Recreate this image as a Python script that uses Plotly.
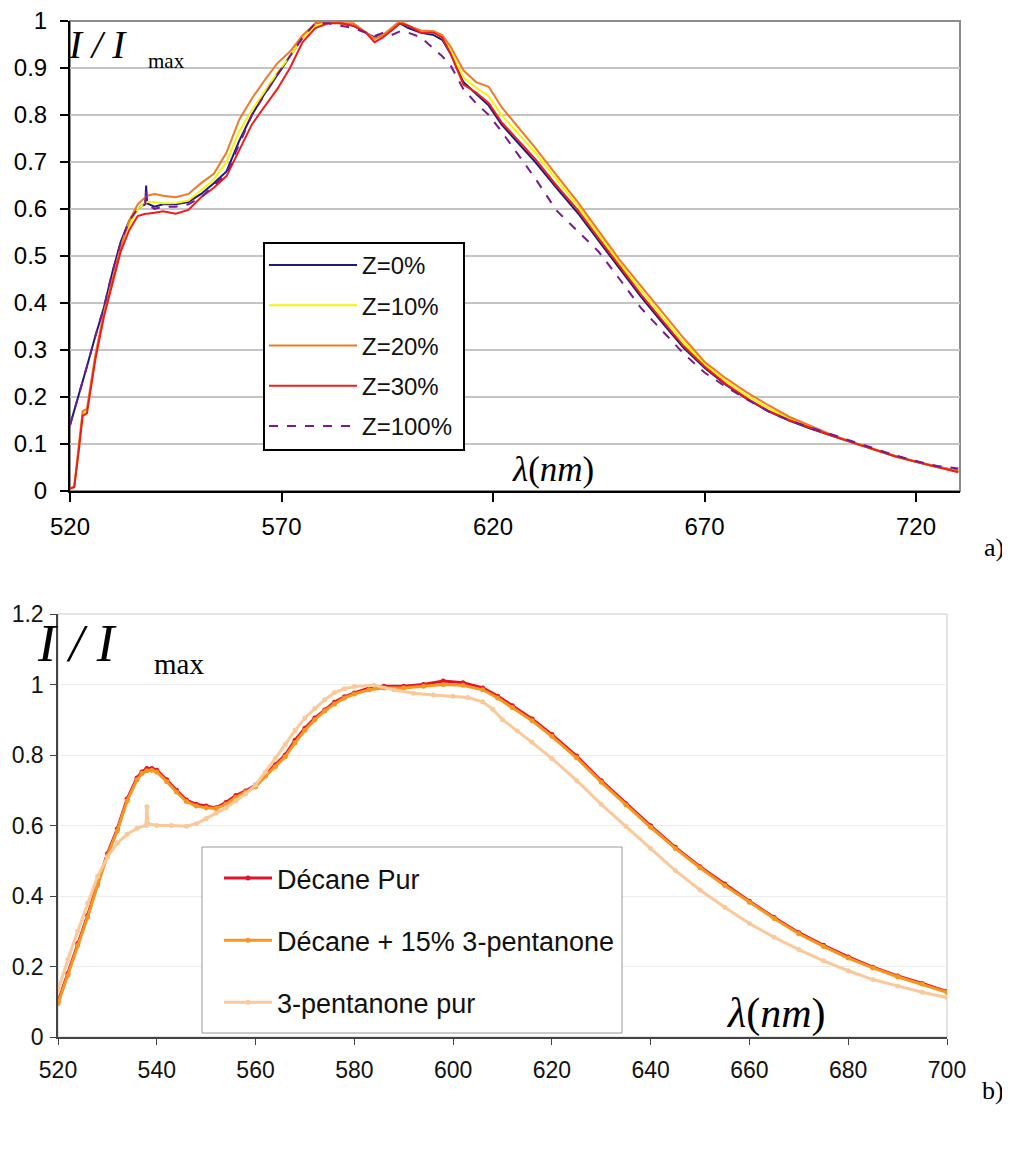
import plotly.graph_objects as go

# Page body has an 8px margin: the figure is sized to fit the window and all
# positions below are given in window pixels, converted by px()/py().
OFF = 8
W, H = 1010 - OFF, 1172 - OFF

# ---------------- Panel a) data ----------------
LAMBDA_A = [520, 521, 522, 523, 524, 526, 528, 530, 532, 534, 536, 537.8, 538, 538.2,
            540, 542, 545, 548, 551, 554, 557, 560, 563, 566, 569, 572, 575,
            578, 581, 584, 587, 590, 592, 594, 596, 598, 600, 603, 606, 608, 610,
            613, 616, 619, 622, 626, 630, 635, 640, 645, 650, 655, 660, 665, 670,
            675, 680, 685, 690, 695, 700, 705, 710, 715, 720, 725, 730]

Z0 = [0.14, 0.17, 0.20, 0.235, 0.265, 0.33, 0.39, 0.465, 0.53, 0.575, 0.60, 0.612, 0.65, 0.612,
      0.605, 0.61, 0.61, 0.615, 0.632, 0.655, 0.68, 0.745, 0.80, 0.845, 0.885, 0.925, 0.965,
      0.995, 0.998, 0.995, 0.99, 0.975, 0.965, 0.97, 0.98, 0.995, 0.985, 0.975, 0.97, 0.96, 0.93,
      0.87, 0.845, 0.82, 0.78, 0.74, 0.70, 0.645, 0.592, 0.532, 0.472, 0.413, 0.358, 0.305, 0.262,
      0.226, 0.196, 0.17, 0.15, 0.133, 0.118, 0.103, 0.088, 0.074, 0.062, 0.051, 0.043]

Z10 = [0.005, 0.01, 0.085, 0.165, 0.17, 0.285, 0.375, 0.445, 0.515, 0.565, 0.60, 0.612, 0.615, 0.615,
       0.615, 0.612, 0.613, 0.618, 0.64, 0.663, 0.70, 0.765, 0.81, 0.85, 0.89, 0.925, 0.965,
       0.99, 0.998, 0.995, 0.993, 0.975, 0.962, 0.97, 0.985, 0.998, 0.99, 0.978, 0.975, 0.965, 0.935,
       0.88, 0.858, 0.84, 0.80, 0.76, 0.72, 0.663, 0.607, 0.545, 0.484, 0.427, 0.372, 0.317, 0.27,
       0.234, 0.203, 0.177, 0.155, 0.136, 0.119, 0.103, 0.088, 0.074, 0.062, 0.051, 0.041]

Z20 = [0.005, 0.01, 0.09, 0.17, 0.175, 0.29, 0.38, 0.45, 0.52, 0.575, 0.61, 0.625, 0.628, 0.628,
       0.632, 0.628, 0.625, 0.632, 0.655, 0.675, 0.72, 0.79, 0.835, 0.874, 0.91, 0.935, 0.97,
       0.995, 1.0, 0.995, 0.995, 0.975, 0.962, 0.97, 0.985, 1.0, 0.99, 0.98, 0.978, 0.97, 0.945,
       0.895, 0.87, 0.86, 0.817, 0.773, 0.73, 0.672, 0.615, 0.553, 0.491, 0.436, 0.381, 0.326, 0.275,
       0.24, 0.21, 0.183, 0.158, 0.139, 0.12, 0.104, 0.089, 0.075, 0.063, 0.052, 0.042]

Z30 = [0.005, 0.008, 0.08, 0.16, 0.165, 0.28, 0.37, 0.44, 0.51, 0.555, 0.585, 0.59, 0.59, 0.59,
       0.592, 0.595, 0.59, 0.598, 0.625, 0.645, 0.67, 0.726, 0.78, 0.818, 0.855, 0.90, 0.955,
       0.985, 0.995, 0.995, 0.99, 0.975, 0.955, 0.965, 0.98, 0.995, 0.99, 0.975, 0.975, 0.965, 0.93,
       0.865, 0.848, 0.825, 0.785, 0.745, 0.706, 0.65, 0.598, 0.537, 0.477, 0.418, 0.363, 0.309, 0.265,
       0.228, 0.197, 0.171, 0.151, 0.134, 0.118, 0.103, 0.088, 0.074, 0.062, 0.051, 0.04]

Z100 = [0.14, 0.17, 0.20, 0.235, 0.265, 0.33, 0.39, 0.465, 0.53, 0.575, 0.60, 0.61, 0.64, 0.61,
        0.60, 0.605, 0.605, 0.61, 0.625, 0.65, 0.675, 0.738, 0.80, 0.843, 0.886, 0.925, 0.965,
        0.995, 0.995, 0.99, 0.985, 0.975, 0.968, 0.975, 0.97, 0.978, 0.975, 0.965, 0.94, 0.925, 0.905,
        0.855, 0.825, 0.80, 0.765, 0.715, 0.665, 0.597, 0.553, 0.509, 0.45, 0.389, 0.341, 0.293, 0.252,
        0.222, 0.195, 0.17, 0.15, 0.135, 0.12, 0.105, 0.09, 0.076, 0.064, 0.053, 0.048]

NAMES_A = ["Z=0%", "Z=10%", "Z=20%", "Z=30%", "Z=100%"]
VALUES_A = [Z0, Z10, Z20, Z30, Z100]
COLORS_A = ["#1c1c80", "#f5f500", "#f07828", "#ee1c1c", "#7a1a8c"]
DASHES_A = ["solid", "solid", "solid", "solid", "dash"]
XTICKS_A = [520, 570, 620, 670, 720]

# ---------------- Panel b) data ----------------
LAMBDA_B = [520, 522, 524, 526, 528, 530, 532, 534, 536, 537, 538, 539, 540, 542, 544, 546,
            548, 550, 552, 554, 556, 558, 560, 562, 564, 566, 568, 570, 572, 574, 576, 578,
            580, 583, 586, 590, 594, 598, 602, 606, 609, 612, 616, 620, 625, 630, 635, 640,
            645, 650, 655, 660, 665, 670, 675, 680, 685, 690, 695, 700]

DECANE_PUR = [0.10, 0.18, 0.265, 0.345, 0.435, 0.52, 0.59, 0.675, 0.735, 0.752, 0.762, 0.762,
              0.757, 0.73, 0.70, 0.672, 0.66, 0.655, 0.65, 0.665, 0.685, 0.698, 0.715, 0.745,
              0.772, 0.80, 0.842, 0.876, 0.905, 0.928, 0.95, 0.965, 0.976, 0.99, 0.995, 0.995,
              1.0, 1.01, 1.005, 0.99, 0.967, 0.94, 0.902, 0.858, 0.797, 0.727, 0.662, 0.599,
              0.538, 0.483, 0.434, 0.385, 0.339, 0.296, 0.26, 0.227, 0.198, 0.173, 0.152, 0.129]

DECANE_15 = [0.095, 0.175, 0.26, 0.34, 0.43, 0.515, 0.585, 0.67, 0.73, 0.748, 0.755, 0.757,
             0.752, 0.725, 0.695, 0.668, 0.655, 0.65, 0.648, 0.66, 0.68, 0.695, 0.71, 0.74,
             0.767, 0.795, 0.835, 0.87, 0.90, 0.925, 0.945, 0.962, 0.973, 0.985, 0.99, 0.99,
             0.995, 1.0, 0.998, 0.985, 0.962, 0.935, 0.897, 0.853, 0.792, 0.723, 0.658, 0.595,
             0.535, 0.48, 0.43, 0.382, 0.336, 0.293, 0.257, 0.224, 0.196, 0.171, 0.15, 0.127]

LAMBDA_P = [520, 522, 524, 526, 528, 530, 532, 534, 536, 537.8, 538, 538.2, 540, 543, 546,
            548, 550, 552, 554, 556, 558, 560, 562, 564, 566, 568, 570, 572, 574, 576, 578,
            580, 584, 588, 592, 596, 600, 603, 606, 608, 610, 613, 616, 620, 625, 630, 635,
            640, 645, 650, 655, 660, 665, 670, 675, 680, 685, 690, 695, 700]

PENTANONE = [0.133, 0.22, 0.30, 0.38, 0.455, 0.51, 0.55, 0.575, 0.592, 0.60, 0.653, 0.605,
             0.60, 0.60, 0.598, 0.605, 0.62, 0.635, 0.65, 0.67, 0.69, 0.715, 0.752, 0.79,
             0.83, 0.87, 0.905, 0.932, 0.957, 0.977, 0.988, 0.994, 0.998, 0.985, 0.975, 0.97,
             0.967, 0.963, 0.951, 0.93, 0.90, 0.868, 0.836, 0.79, 0.728, 0.66, 0.598, 0.535,
             0.472, 0.417, 0.368, 0.322, 0.283, 0.248, 0.216, 0.188, 0.163, 0.145, 0.127, 0.112]

NAMES_B = ["Décane Pur", "Décane + 15% 3-pentanone", "3-pentanone pur"]
COLORS_B = ["#e3122b", "#f7961e", "#fbc89a"]
XTICKS_B = [520, 540, 560, 580, 600, 620, 640, 660, 680, 700]
YTICKS_B = [0, 0.2, 0.4, 0.6, 0.8, 1, 1.2]


def px(x):
    return (x - OFF) / W


def py(y):
    return 1 - (y - OFF) / H


fig = go.Figure()

for name, vals, col, dash in zip(NAMES_A, VALUES_A, COLORS_A, DASHES_A):
    fig.add_trace(go.Scatter(
        x=LAMBDA_A, y=vals, name=name, mode="lines",
        line=dict(color=col, width=2, dash=dash),
        xaxis="x", yaxis="y", legend="legend", legendgroup=name,
    ))

for name, xs, vals, col in zip(NAMES_B, [LAMBDA_B, LAMBDA_B, LAMBDA_P],
                               [DECANE_PUR, DECANE_15, PENTANONE], COLORS_B):
    fig.add_trace(go.Scatter(
        x=xs, y=vals, name=name, mode="lines+markers",
        line=dict(color=col, width=3),
        marker=dict(color=col, size=5),
        xaxis="x2", yaxis="y2", legend="legend2", legendgroup=name,
    ))

tick_font_a = dict(family="Liberation Sans, Arial", size=24, color="#000")
tick_font_b = dict(family="Liberation Sans, Arial", size=23, color="#111")
serif = "Liberation Serif, Times New Roman"

fig.update_layout(
    width=W, height=H,
    margin=dict(l=0, r=0, t=0, b=0, pad=0, autoexpand=False),
    paper_bgcolor="white", plot_bgcolor="white",
    xaxis=dict(domain=[px(70), px(960)], range=[520, 730.4], tickvals=XTICKS_A,
               ticks="outside", ticklen=9, tickwidth=2, tickcolor="#000",
               showline=True, linecolor="#000", linewidth=2, showgrid=False,
               zeroline=False, tickfont=tick_font_a, anchor="y", automargin=False,
               ticklabelstandoff=4, ticklabeloverflow="allow"),
    yaxis=dict(domain=[py(491), py(21)], range=[0, 1], dtick=0.1,
               ticks="outside", ticklen=8, tickwidth=2, tickcolor="#000",
               showline=True, linecolor="#000", linewidth=2,
               showgrid=True, gridcolor="#c4c4c4", gridwidth=1.5,
               zeroline=False, tickfont=tick_font_a, anchor="x",
               ticklabelstandoff=8, automargin=False, ticklabeloverflow="allow"),
    xaxis2=dict(domain=[px(58), px(947)], range=[520, 700], tickvals=XTICKS_B,
                ticks="outside", ticklen=6, tickwidth=1, tickcolor="#444",
                showline=True, linecolor="#444", linewidth=1.5, showgrid=False,
                zeroline=False, tickfont=tick_font_b, anchor="y2",
                ticklabelstandoff=6, automargin=False, ticklabeloverflow="allow"),
    yaxis2=dict(domain=[py(1037), py(614)], range=[0, 1.2], tickvals=YTICKS_B,
                ticks="outside", ticklen=6, tickwidth=1, tickcolor="#444",
                showline=True, linecolor="#444", linewidth=1.5,
                showgrid=True, gridcolor="#ececec", gridwidth=1,
                zeroline=False, tickfont=tick_font_b, anchor="x2",
                ticklabelstandoff=2, automargin=False, ticklabeloverflow="allow"),
    legend=dict(x=px(264), y=py(243), xanchor="left", yanchor="top",
                bgcolor="rgba(0,0,0,0)", borderwidth=0,
                font=dict(family="Liberation Sans, Arial", size=24, color="#111"),
                itemwidth=88, tracegroupgap=6, traceorder="grouped"),
    legend2=dict(x=px(219), y=py(854), xanchor="left", yanchor="top",
                 bgcolor="rgba(0,0,0,0)", borderwidth=0,
                 font=dict(family="Liberation Sans, Arial", size=27, color="#111"),
                 itemwidth=48, tracegroupgap=24, traceorder="grouped"),
    shapes=[
        dict(type="rect", xref="x domain", yref="y domain", x0=0, x1=1, y0=0, y1=1,
             line=dict(color="#8c8c8c", width=2), layer="below"),
        dict(type="rect", xref="x2 domain", yref="y2 domain", x0=0, x1=1, y0=0, y1=1,
             line=dict(color="#c8c8c8", width=1), layer="below"),
        # legend frames
        dict(type="rect", xref="paper", yref="paper",
             x0=px(264), x1=px(464), y0=py(450), y1=py(243),
             fillcolor="white", line=dict(color="#000", width=2), layer="above"),
        dict(type="rect", xref="paper", yref="paper",
             x0=px(202), x1=px(622), y0=py(1033), y1=py(847),
             fillcolor="white", line=dict(color="#9a9a9a", width=1), layer="above"),
    ],
    annotations=[
        dict(xref="paper", yref="paper", x=px(66), y=py(44), xanchor="left", yanchor="middle",
             text="<i>I / I</i>", showarrow=False,
             font=dict(family=serif, size=39, color="#000")),
        dict(xref="paper", yref="paper", x=px(146), y=py(61), xanchor="left", yanchor="middle",
             text="max", showarrow=False,
             font=dict(family=serif, size=21, color="#000")),
        dict(xref="paper", yref="paper", x=px(510), y=py(470), xanchor="left", yanchor="middle",
             text="<i>λ</i>(<i>nm</i>)", showarrow=False,
             font=dict(family=serif, size=35, color="#000")),
        dict(xref="paper", yref="paper", x=px(982), y=py(547), xanchor="left", yanchor="middle",
             text="a)", showarrow=False,
             font=dict(family=serif, size=26, color="#000")),
        dict(xref="paper", yref="paper", x=px(35), y=py(643), xanchor="left", yanchor="middle",
             text="<i>I / I</i>", showarrow=False,
             font=dict(family=serif, size=53, color="#000")),
        dict(xref="paper", yref="paper", x=px(152), y=py(664), xanchor="left", yanchor="middle",
             text="max", showarrow=False,
             font=dict(family=serif, size=29, color="#000")),
        dict(xref="paper", yref="paper", x=px(724), y=py(1013), xanchor="left", yanchor="middle",
             text="<i>λ</i>(<i>nm</i>)", showarrow=False,
             font=dict(family=serif, size=42, color="#000")),
        dict(xref="paper", yref="paper", x=px(980), y=py(1090), xanchor="left", yanchor="middle",
             text="b)", showarrow=False,
             font=dict(family=serif, size=26, color="#000")),
    ],
)

fig.write_html("out.html")
